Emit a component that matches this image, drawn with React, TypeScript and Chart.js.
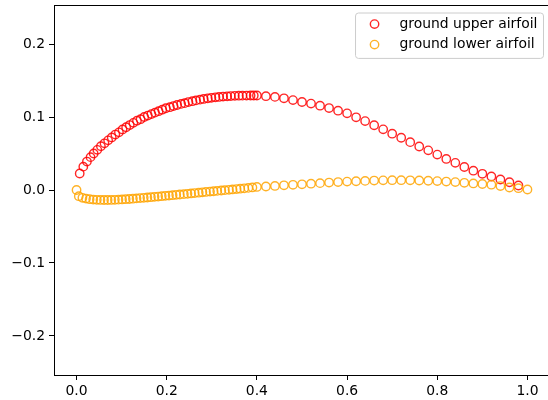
import React, { useEffect, useRef } from "react";
import { Chart, registerables } from "chart.js";

Chart.register(...registerables);

const upperLabel = "ground upper airfoil";
const lowerLabel = "ground lower airfoil";

const upperX = [
  0.007, 0.015, 0.023, 0.031, 0.038, 0.046, 0.054, 0.062, 0.070, 0.078,
  0.086, 0.094, 0.102, 0.110, 0.118, 0.126, 0.134, 0.142, 0.150, 0.158,
  0.166, 0.174, 0.182, 0.190, 0.198, 0.207, 0.215, 0.223, 0.232, 0.240,
  0.248, 0.257, 0.265, 0.274, 0.282, 0.291, 0.299, 0.308, 0.316, 0.325,
  0.334, 0.342, 0.351, 0.360, 0.368, 0.377, 0.386, 0.393, 0.400,
  0.42, 0.44, 0.46, 0.48, 0.50, 0.52, 0.54, 0.56, 0.58, 0.60,
  0.62, 0.64, 0.66, 0.68, 0.70, 0.72, 0.74, 0.76, 0.78, 0.80,
  0.82, 0.84, 0.86, 0.88, 0.90, 0.92, 0.94, 0.96, 0.98,
];
const upperY = [
  0.0226, 0.032, 0.039, 0.045, 0.050, 0.055, 0.060, 0.064, 0.068, 0.072,
  0.076, 0.079, 0.083, 0.086, 0.089, 0.092, 0.095, 0.097, 0.100, 0.102,
  0.104, 0.106, 0.108, 0.110, 0.112, 0.1135, 0.115, 0.1165, 0.118, 0.119,
  0.1205, 0.1217, 0.1228, 0.1238, 0.1248, 0.1256, 0.1263, 0.127, 0.1275, 0.128,
  0.1284, 0.1287, 0.129, 0.1292, 0.1293, 0.1294, 0.1295, 0.1295, 0.1295,
  0.1285, 0.1276, 0.1256, 0.1232, 0.1206, 0.1184, 0.1155, 0.1123, 0.1087, 0.1050,
  0.0996, 0.0944, 0.0887, 0.0831, 0.0772, 0.0716, 0.0656, 0.0596, 0.0543, 0.0485,
  0.0426, 0.0372, 0.0315, 0.0265, 0.0222, 0.0185, 0.0144, 0.0106, 0.0062,
];

const lowerX = [
  0.000, 0.005, 0.013, 0.021, 0.029, 0.037, 0.045, 0.053, 0.061, 0.069,
  0.077, 0.085, 0.093, 0.101, 0.109, 0.117, 0.125, 0.133, 0.141, 0.149,
  0.157, 0.165, 0.173, 0.181, 0.189, 0.197, 0.205, 0.213, 0.221, 0.229,
  0.238, 0.246, 0.254, 0.262, 0.271, 0.279, 0.287, 0.296, 0.304, 0.312,
  0.321, 0.329, 0.338, 0.346, 0.355, 0.363, 0.372, 0.381, 0.390, 0.400,
  0.42, 0.44, 0.46, 0.48, 0.50, 0.52, 0.54, 0.56, 0.58, 0.60,
  0.62, 0.64, 0.66, 0.68, 0.70, 0.72, 0.74, 0.76, 0.78, 0.80,
  0.82, 0.84, 0.86, 0.88, 0.90, 0.92, 0.94, 0.96, 0.98, 1.00,
];
const lowerY = [
  0.0000, -0.0085, -0.0107, -0.0118, -0.0126, -0.0131, -0.0134, -0.0136, -0.0137, -0.0137,
  -0.0136, -0.0134, -0.0132, -0.0129, -0.0126, -0.0123, -0.0119, -0.0115, -0.0111, -0.0107,
  -0.0103, -0.0099, -0.0094, -0.0090, -0.0085, -0.0080, -0.0076, -0.0071, -0.0066, -0.0062,
  -0.0057, -0.0052, -0.0047, -0.0042, -0.0037, -0.0032, -0.0027, -0.0022, -0.0017, -0.0012,
  -0.0007, -0.0002, 0.0003, 0.0008, 0.0013, 0.0018, 0.0023, 0.0029, 0.0035, 0.0042,
  0.0048, 0.0056, 0.0064, 0.0071, 0.0078, 0.0086, 0.0094, 0.0102, 0.0109, 0.0115,
  0.0120, 0.0125, 0.0129, 0.0132, 0.0134, 0.0134, 0.0133, 0.0130, 0.0127, 0.0122,
  0.0116, 0.0108, 0.0099, 0.0090, 0.0082, 0.0073, 0.0054, 0.0034, 0.0025, 0.0007,
];

const xTicks = [0.0, 0.2, 0.4, 0.6, 0.8, 1.0];
const yTicks = [-0.2, -0.1, 0.0, 0.1, 0.2];

const FONT = "'DejaVu Sans', sans-serif";
const RED = "rgba(255,0,0,0.85)";
const ORANGE = "rgba(255,165,0,0.85)";

const fmt = (v: number) => (v < 0 ? "\u2212" + Math.abs(v).toFixed(1) : v.toFixed(1));

const framePlugin = {
  id: "frameAndLegend",
  afterDraw(chart: any) {
    const { ctx, chartArea: a } = chart;
    ctx.save();
    ctx.strokeStyle = "#000";
    ctx.lineWidth = 1;
    ctx.strokeRect(Math.round(a.left) + 0.5, Math.round(a.top) + 0.5, Math.round(a.right - a.left), Math.round(a.bottom - a.top));

    // legend (matplotlib style, upper right)
    const fs = 13.9;
    ctx.font = `${fs}px ${FONT}`;
    const items = chart.data.datasets.map((d: any) => ({ label: d.label, color: d.borderColor }));
    const tw = Math.max(...items.map((i: any) => ctx.measureText(i.label).width));
    const pad = 5.6;
    const handle = 27.8;
    const gap = 11.1;
    const rowH = 20.5;
    const w = pad + handle + gap + tw + pad;
    const h = pad * 2 + rowH * items.length - 6.8;
    const right = a.right - 7;
    const top = a.top + 7.5;
    const left = right - w;
    ctx.beginPath();
    (ctx as any).roundRect(left + 0.5, top + 0.5, w, h, 3);
    ctx.fillStyle = "rgba(255,255,255,0.8)";
    ctx.fill();
    ctx.strokeStyle = "#cccccc";
    ctx.lineWidth = 1;
    ctx.stroke();
    items.forEach((it: any, i: number) => {
      const cy = top + pad + 6 + i * rowH;
      ctx.beginPath();
      ctx.arc(left + pad + handle / 2, cy, 4.2, 0, Math.PI * 2);
      ctx.strokeStyle = it.color;
      ctx.lineWidth = 1.4;
      ctx.stroke();
      ctx.fillStyle = "#000";
      ctx.textBaseline = "middle";
      ctx.textAlign = "left";
      ctx.fillText(it.label, left + pad + handle + gap, cy);
    });
    ctx.restore();
  },
};

export default function App() {
  const ref = useRef<HTMLCanvasElement | null>(null);

  useEffect(() => {
    document.documentElement.style.overflow = "hidden";
    document.body.style.overflow = "hidden";
    const canvas = ref.current;
    if (!canvas) return;
    const chart = new Chart(canvas, {
      type: "scatter",
      data: {
        datasets: [
          {
            label: upperLabel,
            data: upperX.map((x, i) => ({ x, y: upperY[i] })),
            borderColor: RED,
            backgroundColor: "rgba(0,0,0,0)",
            pointRadius: 4.2,
            pointBorderWidth: 1.4,
            order: 2,
          },
          {
            label: lowerLabel,
            data: lowerX.map((x, i) => ({ x, y: lowerY[i] })),
            borderColor: ORANGE,
            backgroundColor: "rgba(0,0,0,0)",
            pointRadius: 4.2,
            pointBorderWidth: 1.4,
            order: 1,
          },
        ],
      },
      options: {
        animation: false,
        responsive: false,
        devicePixelRatio: 1,
        layout: { padding: { top: 5, right: 10, left: 0, bottom: 0 }, autoPadding: false },
        plugins: { legend: { display: false }, tooltip: { enabled: false } },
        scales: {
          x: {
            type: "linear",
            min: -0.05,
            max: 1.05,
            afterBuildTicks: (s: any) => {
              s.ticks = xTicks.map((v) => ({ value: v }));
            },
            afterFit: (s: any) => {
              s.height = 25;
              s.paddingLeft = 0;
              s.paddingRight = 0;
              s.paddingTop = 0;
              s.paddingBottom = 0;
            },
            grid: { drawOnChartArea: false, drawTicks: true, tickLength: 5, color: "#000", tickWidth: 1 },
            border: { display: true, color: "#000", width: 1 },
            ticks: {
              callback: (v: any) => fmt(Number(v)),
              color: "#000",
              padding: 3,
              maxRotation: 0,
              autoSkip: false,
              font: { family: FONT, size: 13.9 },
            },
          },
          y: {
            type: "linear",
            min: -0.2535,
            max: 0.2535,
            afterBuildTicks: (s: any) => {
              s.ticks = yTicks.map((v) => ({ value: v }));
            },
            afterFit: (s: any) => {
              s.width = 54;
              s.paddingLeft = 0;
              s.paddingRight = 0;
              s.paddingTop = 0;
              s.paddingBottom = 0;
            },
            grid: { drawOnChartArea: false, drawTicks: true, tickLength: 5, color: "#000", tickWidth: 1 },
            border: { display: true, color: "#000", width: 1 },
            ticks: {
              callback: (v: any) => fmt(Number(v)),
              color: "#000",
              padding: 4,
              autoSkip: false,
              font: { family: FONT, size: 13.9 },
            },
          },
        },
      },
      plugins: [framePlugin],
    });
    return () => chart.destroy();
  }, []);

  return (
    <div style={{ position: "fixed", left: 0, top: 0, width: 560, height: 400, background: "#fff" }}>
      <canvas ref={ref} width={560} height={400} style={{ width: 560, height: 400, display: "block" }} />
    </div>
  );
}
